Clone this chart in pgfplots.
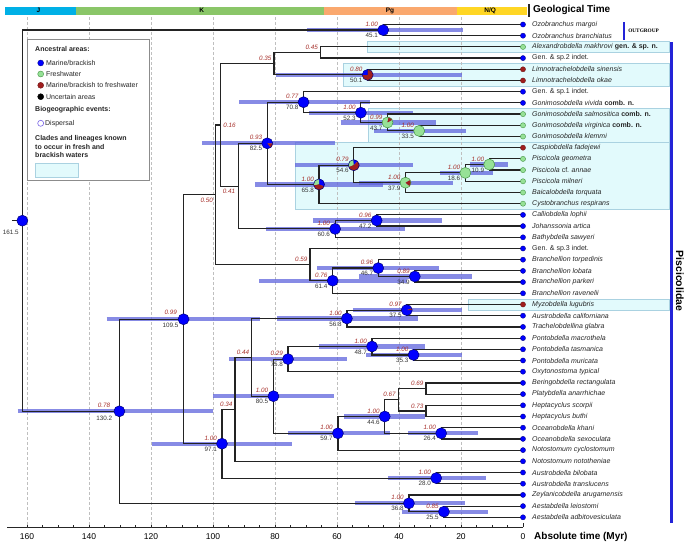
\documentclass[border=0pt]{standalone}
\usepackage{pgfplots}
\pgfplotsset{compat=1.18}
\usepackage{fontspec}
\setmainfont{Liberation Sans}
\newfontfamily\serifbold{Liberation Serif}

\definecolor{hpd}{RGB}{95,100,220}
\definecolor{br}{RGB}{35,35,35}
\definecolor{mb}{RGB}{0,0,255}
\definecolor{mbo}{RGB}{0,0,120}
\definecolor{fw}{RGB}{150,225,150}
\definecolor{fwo}{RGB}{70,150,70}
\definecolor{mr}{RGB}{160,30,30}
\definecolor{mro}{RGB}{100,20,20}
\definecolor{postred}{RGB}{165,45,40}
\definecolor{cyanbox}{RGB}{226,250,252}
\definecolor{cyanedge}{RGB}{170,210,225}
\definecolor{geoJ}{RGB}{0,176,230}
\definecolor{geoK}{RGB}{138,198,104}
\definecolor{geoPg}{RGB}{250,168,110}
\definecolor{geoNQ}{RGB}{255,214,36}
\definecolor{barblue}{RGB}{35,35,215}
\definecolor{disp}{RGB}{120,100,230}

% pie plot marks
\newcommand{\pw}[3]{%
  \pgfpathmoveto{\pgfpointorigin}%
  \pgfpathlineto{\pgfpointpolar{#2}{5.5pt}}%
  \pgfpatharc{#2}{#3}{5.5pt}%
  \pgfpathclose
  \pgfsetfillcolor{#1}\pgfusepath{fill}}
\newcommand{\pring}[1]{\pgfpathcircle{\pgfpointorigin}{5.5pt}\pgfsetstrokecolor{#1}\pgfsetlinewidth{0.5pt}\pgfusepath{stroke}}
\pgfdeclareplotmark{pieA}{\pw{mr}{180}{450}\pw{mb}{90}{180}\pring{mbo}}
\pgfdeclareplotmark{pieB}{\pw{fw}{80}{390}\pw{mr}{30}{80}\pring{fwo}}
\pgfdeclareplotmark{pieC}{\pw{mb}{0}{310}\pw{mr}{-50}{0}\pring{mbo}}
\pgfdeclareplotmark{pieD}{\pw{mb}{-20}{90}\pw{fw}{90}{190}\pw{mr}{190}{340}\pring{mbo}}
\pgfdeclareplotmark{pieE}{\pw{mb}{45}{95}\pw{fw}{95}{200}\pw{mr}{200}{405}\pring{mbo}}
\pgfdeclareplotmark{pieF}{\pw{fw}{30}{320}\pw{mr}{-40}{30}\pring{fwo}}
\pgfdeclareplotmark{pieG}{\pw{mb}{20}{360}\pw{mr}{0}{20}\pring{mbo}}

\tikzset{
  branch/.style={color=br, line width=1.2pt},
  hpdbar/.style={color=hpd, line width=4.2pt, opacity=0.75},
  plab/.style={anchor=east, inner sep=0pt, font=\fontsize{6.3}{7}\selectfont\itshape, text=postred},
  alab/.style={anchor=east, inner sep=0pt, font=\fontsize{6.3}{7}\selectfont, text=black!80},
  tiplab/.style={anchor=west, xshift=9pt, inner sep=0pt, font=\fontsize{7}{8}\selectfont, text=black!85},
  legt/.style={anchor=west, inner sep=0pt, font=\fontsize{7}{8}\selectfont, text=black!85},
  legb/.style={anchor=west, inner sep=0pt, font=\fontsize{7}{8}\selectfont\bfseries, text=black!85},
}
\newcommand{\elbow}[5]{\addplot[branch] coordinates {(#1,#2) (#3,#2) (#3,#4) (#5,#4)};}
\newcommand{\hpd}[3]{\addplot[hpdbar] coordinates {(#1,#3) (#2,#3)};}
\newcommand{\nlab}[4]{\node[plab, xshift=-5pt, yshift=5.5pt] at (axis cs:#1,#2) {#3};\node[alab, xshift=-5pt, yshift=-5.5pt] at (axis cs:#1,#2) {#4};}
\newcommand{\plabs}[3]{\node[plab, xshift=-2.5pt, yshift=5pt] at (axis cs:#1,#2) {#3};}
\newcommand{\tip}[2]{\node[tiplab] at (axis cs:0,-#1) {#2};}

\begin{document}
\begin{tikzpicture}
\begin{axis}[
  at={(7pt,19pt)}, anchor=south west,
  scale only axis, width=516pt, height=510pt,
  x dir=reverse, xmin=0, xmax=166.45,
  ymin=-44.866, ymax=0.67,
  axis x line*=bottom, axis y line=none,
  axis line style={line width=0.7pt, black!85},
  xtick={0,20,...,160}, minor x tick num=3,
  tick align=inside,
  major tick length=4pt, minor tick length=2.5pt,
  tick style={line width=0.6pt, black!85},
  xticklabel style={font=\fontsize{8.5}{10}\selectfont, yshift=-3pt},
  /pgf/number format/assume math mode=true,
  clip=false,
]
% clade boxes (fresh/brackish)
\filldraw[fill=cyanbox, draw=cyanedge, line width=0.6pt] (axis cs:50.3,-1.5) rectangle (axis cs:-47.1,-2.5);
\filldraw[fill=cyanbox, draw=cyanedge, line width=0.6pt] (axis cs:58.1,-3.5) rectangle (axis cs:-47.1,-5.5);
\filldraw[fill=cyanbox, draw=cyanedge, line width=0.6pt] (axis cs:50.0,-7.5) rectangle (axis cs:-47.1,-10.5);
\filldraw[fill=cyanbox, draw=cyanedge, line width=0.6pt] (axis cs:73.3,-10.5) rectangle (axis cs:-47.1,-16.5);
\filldraw[fill=cyanbox, draw=cyanedge, line width=0.6pt] (axis cs:17.7,-24.5) rectangle (axis cs:-47.1,-25.5);
% grid
\pgfplotsinvokeforeach{20,40,60,80,100,120,140,160}{\draw[densely dashed, line width=0.4pt, black!25] (axis cs:#1,0.67) -- (axis cs:#1,-44.866);}
% geological time bar
\fill[geoJ] (axis cs:167.1,1.589) rectangle (axis cs:144.2,0.848);
\fill[geoK] (axis cs:144.2,1.589) rectangle (axis cs:64.2,0.848);
\fill[geoPg] (axis cs:64.2,1.589) rectangle (axis cs:21.3,0.848);
\fill[geoNQ] (axis cs:21.3,1.589) rectangle (axis cs:-1.3,0.848);
\fill[black!85] (axis cs:-1.6,1.83) rectangle (axis cs:-2.26,0.67);
\node[font=\fontsize{6.5}{7}\selectfont\bfseries] at (axis cs:156.3,1.25) {J};
\node[font=\fontsize{6.5}{7}\selectfont\bfseries] at (axis cs:103.6,1.25) {K};
\node[font=\fontsize{6.5}{7}\selectfont\bfseries] at (axis cs:42.9,1.25) {Pg};
\node[font=\fontsize{6.5}{7}\selectfont\bfseries] at (axis cs:10.6,1.25) {N/Q};
\node[anchor=west, inner sep=0pt, font=\fontsize{10}{12}\selectfont\bfseries] at (axis cs:-3.23,1.295) {Geological Time};
\node[anchor=west, inner sep=0pt, font=\fontsize{10}{12}\selectfont\bfseries] at (axis cs:-3.55,-45.76) {Absolute time (Myr)};

% HPD bars
\hpd{69.7}{19.4}{-0.5}
\hpd{163}{100}{-34.533}
\hpd{134.3}{84.8}{-26.315}
\hpd{79.7}{19.8}{-4.5}
\hpd{91.5}{49.4}{-6.9375}
\hpd{68.9}{35.4}{-7.875}
\hpd{58.8}{28.1}{-8.75}
\hpd{48.1}{18.5}{-9.5}
\hpd{103.6}{60.6}{-10.609}
\hpd{86.5}{45.1}{-14.281}
\hpd{73.5}{35.4}{-12.5625}
\hpd{52.8}{22.5}{-14.125}
\hpd{26.8}{9.7}{-13.25}
\hpd{17.1}{4.8}{-12.5}
\hpd{67.8}{26}{-17.5}
\hpd{82.9}{38.1}{-18.25}
\hpd{66.3}{27}{-21.75}
\hpd{52.8}{16.5}{-22.5}
\hpd{85}{37.3}{-22.875}
\hpd{54.9}{19.6}{-25.5}
\hpd{79.3}{33.8}{-26.25}
\hpd{65.7}{31.6}{-28.75}
\hpd{50.6}{19.6}{-29.5}
\hpd{94.7}{56.9}{-29.875}
\hpd{99.9}{60.9}{-33.1875}
\hpd{57.7}{31.6}{-35}
\hpd{75.9}{42.9}{-36.5}
\hpd{37}{14.6}{-36.5}
\hpd{119.8}{74.5}{-37.43}
\hpd{43.5}{12}{-40.5}
\hpd{54.2}{18.7}{-42.75}
\hpd{39.1}{11.2}{-43.5}

% branches
\addplot[branch] coordinates {(164.7,-17.516) (161.5,-17.516)};
\elbow{45.1}{-0.5}{161.5}{-34.533}{130.2}
\elbow{0}{0}{45.1}{-1}{0}
\elbow{109.5}{-26.315}{130.2}{-42.75}{36.8}
\elbow{99.1}{-15.201}{109.5}{-37.43}{97.1}
\elbow{97.7}{-8.965}{99.1}{-21.4375}{68.7}
\elbow{80.3}{-3.5}{97.7}{-14.43}{91.8}
\elbow{65.3}{-2.5}{80.3}{-4.5}{50.1}
\elbow{0}{-2}{65.3}{-3}{0}
\elbow{0}{-4}{50.1}{-5}{0}
\elbow{82.5}{-10.609}{91.8}{-18.25}{60.6}
\elbow{70.8}{-6.9375}{82.5}{-14.281}{65.8}
\elbow{0}{-6}{70.8}{-7.875}{52.3}
\elbow{0}{-7}{52.3}{-8.75}{43.7}
\elbow{0}{-8}{43.7}{-9.5}{33.5}
\elbow{0}{-9}{33.5}{-10}{0}
\elbow{54.6}{-12.5625}{65.8}{-16}{0}
\elbow{0}{-11}{54.6}{-14.125}{37.9}
\elbow{18.6}{-13.25}{37.9}{-15}{0}
\elbow{10.9}{-12.5}{18.6}{-14}{0}
\elbow{0}{-12}{10.9}{-13}{0}
\elbow{47.2}{-17.5}{60.6}{-19}{0}
\elbow{0}{-17}{47.2}{-18}{0}
\elbow{0}{-20}{68.7}{-22.875}{61.4}
\elbow{46.7}{-21.75}{61.4}{-24}{0}
\elbow{0}{-21}{46.7}{-22.5}{34.9}
\elbow{0}{-22}{34.9}{-23}{0}
\elbow{92.9}{-34.359}{97.1}{-40.5}{28.0}
\elbow{87.5}{-29.719}{92.9}{-39}{0}
\elbow{56.8}{-26.25}{87.5}{-33.1875}{80.5}
\elbow{37.5}{-25.5}{56.8}{-27}{0}
\elbow{0}{-25}{37.5}{-26}{0}
\elbow{75.8}{-29.875}{80.5}{-36.5}{59.7}
\elbow{48.7}{-28.75}{75.8}{-31}{0}
\elbow{0}{-28}{48.7}{-29.5}{35.3}
\elbow{0}{-29}{35.3}{-30}{0}
\elbow{44.6}{-35}{59.7}{-38}{0}
\elbow{40.2}{-33.5}{44.6}{-36.5}{26.4}
\elbow{31.3}{-32.5}{40.2}{-34.5}{31.3}
\elbow{0}{-32}{31.3}{-33}{0}
\elbow{0}{-34}{31.3}{-35}{0}
\elbow{0}{-36}{26.4}{-37}{0}
\elbow{0}{-40}{28.0}{-41}{0}
\elbow{0}{-42}{36.8}{-43.5}{25.5}
\elbow{0}{-43}{25.5}{-44}{0}

% internal node circles
\addplot[only marks, mark=*, mark size=5.5pt, mark options={fill=mb, draw=mbo, line width=0.5pt}] coordinates {
(161.5,-17.516) (45.1,-0.5) (130.2,-34.533) (109.5,-26.315) (70.8,-6.9375) (52.3,-7.875)
(47.2,-17.5) (60.6,-18.25) (46.7,-21.75) (34.9,-22.5) (61.4,-22.875) (56.8,-26.25)
(48.7,-28.75) (35.3,-29.5) (75.8,-29.875) (80.5,-33.1875) (44.6,-35) (59.7,-36.5)
(26.4,-36.5) (97.1,-37.43) (28.0,-40.5) (36.8,-42.75) (25.5,-43.5)};
\addplot[only marks, mark=*, mark size=5.5pt, mark options={fill=fw, draw=fwo, line width=0.5pt}] coordinates {
(33.5,-9.5) (18.6,-13.25) (10.9,-12.5)};
\addplot[only marks, mark=pieA] coordinates {(50.1,-4.5)};
\addplot[only marks, mark=pieB] coordinates {(43.7,-8.75)};
\addplot[only marks, mark=pieC] coordinates {(82.5,-10.609)};
\addplot[only marks, mark=pieD] coordinates {(65.8,-14.281)};
\addplot[only marks, mark=pieE] coordinates {(54.6,-12.5625)};
\addplot[only marks, mark=pieF] coordinates {(37.9,-14.125)};
\addplot[only marks, mark=pieG] coordinates {(37.5,-25.5)};

% tip circles
\addplot[only marks, mark=*, mark size=2.6pt, mark options={fill=mb, draw=mbo, line width=0.3pt}] coordinates {
(0,0) (0,-1) (0,-3) (0,-6) (0,-7) (0,-17) (0,-18) (0,-19) (0,-20) (0,-21) (0,-22) (0,-23) (0,-24)
(0,-26) (0,-27) (0,-28) (0,-29) (0,-30) (0,-31) (0,-32) (0,-33) (0,-34) (0,-35) (0,-36) (0,-37)
(0,-38) (0,-39) (0,-40) (0,-41) (0,-42) (0,-43) (0,-44)};
\addplot[only marks, mark=*, mark size=2.6pt, mark options={fill=fw, draw=fwo, line width=0.4pt}] coordinates {
(0,-2) (0,-8) (0,-9) (0,-10) (0,-12) (0,-13) (0,-14) (0,-15) (0,-16)};
\addplot[only marks, mark=*, mark size=2.6pt, mark options={fill=mr, draw=mro, line width=0.3pt}] coordinates {
(0,-4) (0,-5) (0,-11) (0,-25)};

% node labels
\node[alab, xshift=-3.4pt, yshift=-12pt] at (axis cs:161.5,-17.516) {161.5};
\node[plab, xshift=-9pt, yshift=6.3pt] at (axis cs:130.2,-34.533) {0.78};
\node[alab, xshift=-7pt, yshift=-7pt] at (axis cs:130.2,-34.533) {130.2};
\node[plab, xshift=-6.5pt, yshift=6.5pt] at (axis cs:109.5,-26.315) {0.99};
\node[alab, xshift=-5pt, yshift=-6.4pt] at (axis cs:109.5,-26.315) {109.5};
\nlab{45.1}{-0.5}{1.00}{45.1}
\nlab{50.1}{-4.5}{0.80}{50.1}
\nlab{70.8}{-6.9375}{0.77}{70.8}
\nlab{52.3}{-7.875}{1.00}{52.3}
\nlab{43.7}{-8.75}{0.99}{43.7}
\nlab{33.5}{-9.5}{1.00}{33.5}
\nlab{82.5}{-10.609}{0.93}{82.5}
\nlab{65.8}{-14.281}{1.00}{65.8}
\nlab{54.6}{-12.5625}{0.79}{54.6}
\nlab{37.9}{-14.125}{1.00}{37.9}
\nlab{18.6}{-13.25}{1.00}{18.6}
\nlab{10.9}{-12.5}{1.00}{10.9}
\nlab{47.2}{-17.5}{0.96}{47.2}
\nlab{60.6}{-18.25}{1.00}{60.6}
\nlab{46.7}{-21.75}{0.96}{46.7}
\nlab{34.9}{-22.5}{0.89}{34.9}
\nlab{61.4}{-22.875}{0.76}{61.4}
\nlab{37.5}{-25.5}{0.97}{37.5}
\nlab{56.8}{-26.25}{1.00}{56.8}
\nlab{48.7}{-28.75}{1.00}{48.7}
\nlab{35.3}{-29.5}{1.00}{35.3}
\nlab{75.8}{-29.875}{0.29}{75.8}
\nlab{80.5}{-33.1875}{1.00}{80.5}
\nlab{44.6}{-35}{1.00}{44.6}
\nlab{59.7}{-36.5}{1.00}{59.7}
\nlab{26.4}{-36.5}{1.00}{26.4}
\nlab{97.1}{-37.43}{1.00}{97.1}
\nlab{28.0}{-40.5}{1.00}{28.0}
\nlab{36.8}{-42.75}{1.00}{36.8}
\nlab{25.5}{-43.5}{0.85}{25.5}
\plabs{65.3}{-2.5}{0.45}
\plabs{80.3}{-3.5}{0.35}
\plabs{68.7}{-21.4375}{0.59}
\plabs{87.5}{-29.719}{0.44}
\plabs{92.9}{-34.359}{0.34}
\plabs{40.2}{-33.5}{0.67}
\plabs{31.3}{-32.5}{0.69}
\plabs{31.3}{-34.5}{0.73}
\node[plab, anchor=west, xshift=3pt] at (axis cs:97.7,-8.965) {0.16};
\node[plab, xshift=-3pt, yshift=-5.7pt] at (axis cs:91.8,-14.43) {0.41};
\node[plab, xshift=-2.7pt, yshift=-5.7pt] at (axis cs:99.1,-15.201) {0.50};

% tip labels
\tip{0}{\textit{Ozobranchus margoi}}
\tip{1}{\textit{Ozobranchus branchiatus}}
\tip{2}{\textit{Alexandrobdella makhrovi} \textbf{gen. \& sp. n.}}
\tip{3}{Gen. \& sp.2 indet.}
\tip{4}{\textit{Limnotrachelobdella sinensis}}
\tip{5}{\textit{Limnotrachelobdella okae}}
\tip{6}{Gen. \& sp.1 indet.}
\tip{7}{\textit{Gonimosobdella vivida} \textbf{comb. n.}}
\tip{8}{\textit{Gonimosobdella salmositica} \textbf{comb. n.}}
\tip{9}{\textit{Gonimosobdella virginica} \textbf{comb. n.}}
\tip{10}{\textit{Gonimosobdella klemmi}}
\tip{11}{\textit{Caspiobdella fadejewi}}
\tip{12}{\textit{Piscicola geometra}}
\tip{13}{\textit{Piscicola} cf. \textit{annae}}
\tip{14}{\textit{Piscicola milneri}}
\tip{15}{\textit{Baicalobdella torquata}}
\tip{16}{\textit{Cystobranchus respirans}}
\tip{17}{\textit{Calliobdella lophii}}
\tip{18}{\textit{Johanssonia artica}}
\tip{19}{\textit{Bathybdella sawyeri}}
\tip{20}{Gen. \& sp.3 indet.}
\tip{21}{\textit{Branchellion torpedinis}}
\tip{22}{\textit{Branchellion lobata}}
\tip{23}{\textit{Branchellion parkeri}}
\tip{24}{\textit{Branchellion ravenelii}}
\tip{25}{\textit{Myzobdella lugubris}}
\tip{26}{\textit{Austrobdella californiana}}
\tip{27}{\textit{Trachelobdellina glabra}}
\tip{28}{\textit{Pontobdella macrothela}}
\tip{29}{\textit{Pontobdella tasmanica}}
\tip{30}{\textit{Pontobdella muricata}}
\tip{31}{\textit{Oxytonostoma typical}}
\tip{32}{\textit{Beringobdella rectangulata}}
\tip{33}{\textit{Platybdella anarrhichae}}
\tip{34}{\textit{Heptacyclus scorpii}}
\tip{35}{\textit{Heptacyclus buthi}}
\tip{36}{\textit{Oceanobdella khani}}
\tip{37}{\textit{Oceanobdella sexoculata}}
\tip{38}{\textit{Notostomum cyclostomum}}
\tip{39}{\textit{Notostomum nototheniae}}
\tip{40}{\textit{Austrobdella bilobata}}
\tip{41}{\textit{Austrobdella translucens}}
\tip{42}{\textit{Zeylanicobdella arugamensis}}
\tip{43}{\textit{Aestabdella leiostomi}}
\tip{44}{\textit{Aestabdella adbitovesiculata}}

% outgroup and family bars
\fill[barblue] (axis cs:-32.3,0.22) rectangle (axis cs:-32.95,-1.38);
\node[anchor=west, inner sep=0pt, font=\serifbold\fontsize{5.3}{6}\selectfont\bfseries] at (axis cs:-33.9,-0.58) {OUTGROUP};
\fill[barblue] (axis cs:-47.3,-1.5625) rectangle (axis cs:-48.3,-44.5);
\node[rotate=-90, inner sep=0pt, font=\fontsize{10.5}{12}\selectfont\bfseries] at (axis cs:-50.6,-22.9) {Piscicolidae};

% legend
\filldraw[fill=white, draw=black!45, line width=0.6pt] (axis cs:159.9,-1.32) rectangle (axis cs:120.55,-13.88);
\node[legb] at (axis cs:157.4,-2.1875) {Ancestral areas:};
\addplot[only marks, mark=*, mark size=3pt, mark options={fill=mb, draw=mbo, line width=0.3pt}] coordinates {(155.58,-3.4375)};
\addplot[only marks, mark=*, mark size=3pt, mark options={fill=fw, draw=fwo, line width=0.4pt}] coordinates {(155.58,-4.42)};
\addplot[only marks, mark=*, mark size=3pt, mark options={fill=mr, draw=mro, line width=0.3pt}] coordinates {(155.58,-5.43)};
\addplot[only marks, mark=*, mark size=3pt, mark options={fill=black, draw=black}] coordinates {(155.58,-6.446)};
\addplot[only marks, mark=*, mark size=3pt, mark options={fill=white, draw=disp, line width=0.6pt}] coordinates {(155.58,-8.82)};
\node[legt] at (axis cs:153.9,-3.4375) {Marine/brackish};
\node[legt] at (axis cs:153.9,-4.42) {Freshwater};
\node[legt] at (axis cs:153.9,-5.43) {Marine/brackish to freshwater};
\node[legt] at (axis cs:153.9,-6.446) {Uncertain areas};
\node[legb] at (axis cs:157.4,-7.634) {Biogeographic events:};
\node[legt] at (axis cs:154.2,-8.82) {Dispersal};
\node[legb] at (axis cs:157.4,-10.16) {Clades and lineages known};
\node[legb] at (axis cs:157.4,-10.91) {to occur in fresh and};
\node[legb] at (axis cs:157.4,-11.65) {brackish waters};
\filldraw[fill=cyanbox, draw=cyanedge, line width=0.6pt] (axis cs:157.4,-12.39) rectangle (axis cs:143.45,-13.62);
\end{axis}
\pgfresetboundingbox
\path[use as bounding box] (0,0) rectangle (685pt,546pt);
\end{tikzpicture}
\end{document}
